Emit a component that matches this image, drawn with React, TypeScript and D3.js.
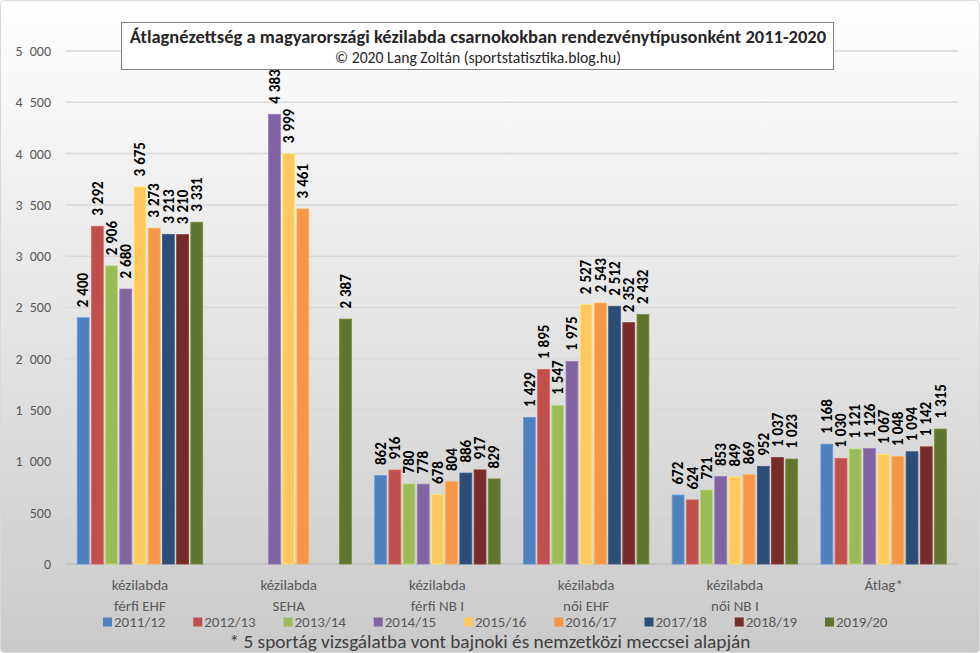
import React from "react";
import * as d3 from "d3";

const categoryLines: string[][] = [
  ["kézilabda", "férfi EHF"],
  ["kézilabda", "SEHA"],
  ["kézilabda", "férfi NB I"],
  ["kézilabda", "női EHF"],
  ["kézilabda", "női NB I"],
  ["Átlag*"],
];
const categories = categoryLines.map((l) => l.join(" "));

const seasons = ["2011/12", "2012/13", "2013/14", "2014/15", "2015/16", "2016/17", "2017/18", "2018/19", "2019/20"];
const seasonColors = ["#4F81BD", "#C0504D", "#9BBB59", "#8064A2", "#FFC85E", "#F79646", "#2C4D75", "#772C2A", "#5F7530"];

const ferfiEHF = [2400, 3292, 2906, 2680, 3675, 3273, 3213, 3210, 3331];
const seha = [null, null, null, 4383, 3999, 3461, null, null, 2387];
const ferfiNB1 = [862, 916, 780, 778, 678, 804, 886, 917, 829];
const noiEHF = [1429, 1895, 1547, 1975, 2527, 2543, 2512, 2352, 2432];
const noiNB1 = [672, 624, 721, 853, 849, 869, 952, 1037, 1023];
const atlag = [1168, 1030, 1121, 1126, 1067, 1048, 1094, 1142, 1315];
const values: (number | null)[][] = [ferfiEHF, seha, ferfiNB1, noiEHF, noiNB1, atlag];

const yTicks = [0, 500, 1000, 1500, 2000, 2500, 3000, 3500, 4000, 4500, 5000];

const titleText = "Átlagnézettség a magyarországi kézilabda csarnokokban rendezvénytípusonként 2011-2020";
const subtitleText = "© 2020 Lang Zoltán (sportstatisztika.blog.hu)";
const footnoteText = "* 5 sportág vizsgálatba vont bajnoki és nemzetközi meccsei alapján";

const W = 980;
const H = 653;
const FONT = "Carlito, 'Liberation Sans Narrow', 'Open Sans', sans-serif";

const fmt = (v: number) => d3.format(",")(v).replace(/,/g, "\u2002");
const splitThousands = (v: number): [string, string] => {
  const s = d3.format(",")(v);
  const i = s.indexOf(",");
  return i < 0 ? ["", s] : [s.slice(0, i), s.slice(i + 1)];
};

export default function App() {
  const x = d3.scaleBand<string>().domain(categories).range([65.6, 958]).padding(0);
  const xi = d3
    .scaleBand<string>()
    .domain(seasons)
    .range([0, x.bandwidth()])
    .paddingInner(0.1667)
    .paddingOuter(0.82);
  const y = d3.scaleLinear().domain([0, 5000]).range([564, 51]);

  const legendX0 = 103;
  const legendStep = 90.25;

  return (
    <svg
      width={W}
      height={H}
      style={{ position: "absolute", left: 0, top: 0, display: "block" }}
      fontFamily={FONT}
    >
      <defs>
        <linearGradient id="bg" x1="0" y1="0" x2="0" y2="1">
          <stop offset="0" stopColor="#ffffff" />
          <stop offset="1" stopColor="#cacaca" />
        </linearGradient>
      </defs>
      <rect x={0.5} y={0.5} width={W - 1} height={H - 1} rx={4} fill="url(#bg)" stroke="#d9d9d9" />

      {/* gridlines */}
      {yTicks.map((t) => (
        <g key={t}>
          <line
            x1={65.6}
            x2={958}
            y1={y(t)}
            y2={y(t)}
            stroke={t === 0 ? "#bfbfbf" : "#d9d9d9"}
            strokeWidth={1.5}
          />
          <text x={51} y={y(t)} dy="0.35em" textAnchor="end" fontSize={14} fill="#595959">
            {fmt(t)}
          </text>
        </g>
      ))}

      {/* bars */}
      {categories.map((c, ci) => (
        <g key={c} transform={`translate(${x(c)},0)`}>
          {seasons.map((s, si) => {
            const v = values[ci][si];
            if (v == null) return null;
            const bx = xi(s)!;
            const bw = xi.bandwidth();
            const cx = bx + bw / 2;
            const [hi, lo] = splitThousands(v);
            return (
              <g key={s}>
                <rect
                  x={bx}
                  y={y(v)}
                  width={bw}
                  height={y(0) - y(v)}
                  fill={seasonColors[si]}
                  stroke={d3.color(seasonColors[si])!.brighter(0.5).formatHex()}
                  strokeWidth={0.8}
                />
                <text
                  transform={`translate(${cx},${y(v) - 10.5}) rotate(-90)`}
                  dy="0.35em"
                  fontSize={15}
                  fontWeight="bold"
                  fill="#000"
                >
                  {hi ? (
                    <>
                      <tspan>{hi}</tspan>
                      <tspan dx={4}>{lo}</tspan>
                    </>
                  ) : (
                    lo
                  )}
                </text>
              </g>
            );
          })}
          {categoryLines[ci].map((ln, li) => (
            <text
              key={li}
              x={x.bandwidth() / 2}
              y={590 + li * 21}
              textAnchor="middle"
              fontSize={15}
              fill="#595959"
            >
              {ln}
            </text>
          ))}
        </g>
      ))}

      {/* legend */}
      {seasons.map((s, si) => (
        <g key={s} transform={`translate(${legendX0 + si * legendStep},622)`}>
          <rect x={0} y={-4.5} width={9} height={9} fill={seasonColors[si]} />
          <text x={11} y={0} dy="0.35em" fontSize={15} fill="#595959">
            {s}
          </text>
        </g>
      ))}

      <text x={490} y={641} dy="0.35em" textAnchor="middle" fontSize={19.3} fill="#404040">
        {footnoteText}
      </text>

      {/* title box */}
      <rect x={121.5} y={22.5} width={712} height={47} fill="#ffffff" stroke="#808080" strokeWidth={1} />
      <text x={478} y={37} dy="0.35em" textAnchor="middle" fontSize={18.5} fontWeight="bold" fill="#262626">
        {titleText}
      </text>
      <text x={478} y={57.5} dy="0.35em" textAnchor="middle" fontSize={15.7} fill="#262626">
        {subtitleText}
      </text>
    </svg>
  );
}
